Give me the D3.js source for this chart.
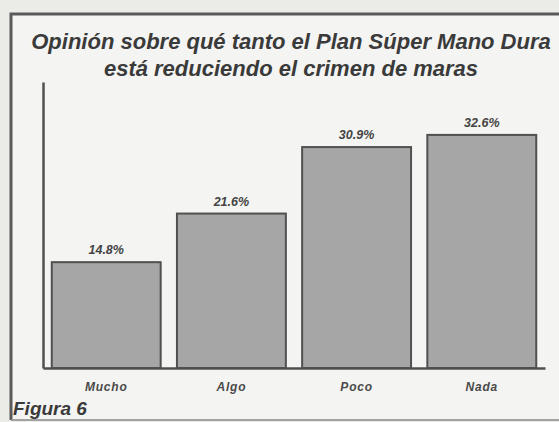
<!DOCTYPE html>
<html>
<head>
<meta charset="utf-8">
<script src="https://cdn.jsdelivr.net/npm/d3@7"></script>
<style>
  body { margin: 0; background: #ebebe8; }
  svg { display: block; }
  text { font-family: "Liberation Sans", Arial, sans-serif; }
</style>
</head>
<body>
<svg id="chart"></svg>
<script>
// Opinión sobre el Plan Súper Mano Dura - Figura 6
const categories = ["Mucho", "Algo", "Poco", "Nada"];
const values = [14.8, 21.6, 30.9, 32.6];
const titleLines = ["Opinión sobre qué tanto el Plan Súper Mano Dura", "está reduciendo el crimen de maras"];
const figureLabel = "Figura 6";

let width = 559,
    height = 422;

const svg = d3.select('#chart')
    .attr('width', width)
    .attr('height', height);

// paper inside the frame
svg.append('rect')
    .attr('x', 10).attr('y', 13)
    .attr('width', width).attr('height', 407)
    .attr('fill', '#f4f4f2');

// frame: top + left thick, bottom thin
svg.append('path')
    .attr('d', `M${width + 5},14 L11,14 L11,420`)
    .attr('fill', 'none')
    .attr('stroke', '#5a5a5a')
    .attr('stroke-width', 3);
svg.append('line')
    .attr('x1', 11).attr('x2', width).attr('y1', 420).attr('y2', 420)
    .attr('stroke', '#8a8a8a')
    .attr('stroke-width', 1.5);

// title
svg.append('g')
    .selectAll('text')
    .data(titleLines)
    .enter().append('text')
      .attr('x', 291)
      .attr('y', (d, i) => 49 + i * 27)
      .attr('text-anchor', 'middle')
      .attr('font-size', 22)
      .attr('font-style', 'italic')
      .attr('font-weight', 'bold')
      .attr('fill', '#3a3a3a')
      .text((d) => d);

const x = d3.scaleBand()
    .domain(categories)
    .range([43, 545])
    .paddingInner(0.13)
    .paddingOuter(0.07);

const y = d3.scaleLinear()
    .domain([0, 40])
    .range([368, 82]);

// bars
svg.append('g')
    .attr('class', 'bars')
  .selectAll('rect')
  .data(values)
  .enter().append('rect')
    .attr('x', (d, i) => x(categories[i]))
    .attr('y', (d) => y(d))
    .attr('width', x.bandwidth())
    .attr('height', (d) => y(0) - y(d))
    .attr('fill', '#a6a6a6')
    .attr('stroke', '#505050')
    .attr('stroke-width', 2);

// value labels
svg.append('g')
  .selectAll('text')
  .data(values)
  .enter().append('text')
    .attr('x', (d, i) => x(categories[i]) + x.bandwidth() / 2)
    .attr('y', (d) => y(d) - 8)
    .attr('text-anchor', 'middle')
    .attr('font-size', 12.5)
    .attr('font-style', 'italic')
    .attr('font-weight', 'bold')
    .attr('fill', '#444')
    .text((d) => d3.format('.1f')(d) + '%');

// y axis: just the line
svg.append('g')
    .attr('transform', `translate(${x.range()[0]},0)`)
    .call(d3.axisLeft(y).tickValues([]).tickSizeOuter(0))
  .select('.domain')
    .attr('stroke', '#505050')
    .attr('stroke-width', 2.5);

// x axis
const xAxis = svg.append('g')
    .attr('transform', `translate(0,${y(0)})`)
    .call(d3.axisBottom(x).tickSize(0).tickSizeOuter(0).tickPadding(14));
xAxis.select('.domain')
    .attr('stroke', '#505050')
    .attr('stroke-width', 2.5);
xAxis.selectAll('text')
    .attr('font-family', '"Liberation Sans", Arial, sans-serif')
    .attr('font-size', 12)
    .attr('font-style', 'italic')
    .attr('font-weight', 'bold')
    .attr('letter-spacing', 0.8)
    .attr('fill', '#4a4a4a');

// figure label
svg.append('text')
    .attr('x', 13)
    .attr('y', 415)
    .attr('font-size', 19)
    .attr('font-style', 'italic')
    .attr('font-weight', 'bold')
    .attr('fill', '#3a3a3a')
    .text(figureLabel);
</script>
</body>
</html>
